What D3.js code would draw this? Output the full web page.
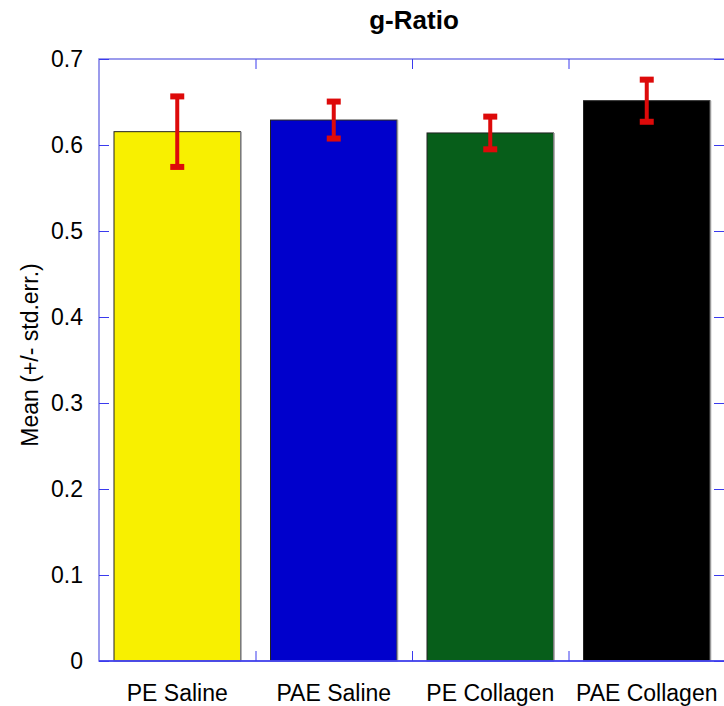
<!DOCTYPE html>
<html>
<head>
<meta charset="utf-8">
<title>g-Ratio</title>
<script src="https://cdn.jsdelivr.net/npm/d3@7"></script>
<style>
  body { margin: 0; background: #fff; }
  text { font-family: "Liberation Sans", Arial, sans-serif; }
</style>
</head>
<body>
<script>
// data
var groups = ["PE Saline", "PAE Saline", "PE Collagen", "PAE Collagen"];
var means = [0.6155, 0.629, 0.614, 0.6515];
var stdErr = [0.041, 0.0215, 0.019, 0.0245];
var barColors = ["#f8f000", "#0000cc", "#075e1a", "#000000"];
var yTicks = [0, 0.1, 0.2, 0.3, 0.4, 0.5, 0.6, 0.7];

var width = 724, height = 706;
var plotL = 99, plotR = 725, plotT = 59, plotB = 661;

var svg = d3.select("body").append("svg")
    .attr("width", width)
    .attr("height", height);

var x = d3.scaleBand().domain(groups).range([plotL, plotR]).padding(0);
var y = d3.scaleLinear().domain([0, 0.7]).range([plotB, plotT]);
var inset = 15;

// bars
svg.selectAll("rect.bar")
    .data(groups)
    .enter().append("rect")
    .attr("class", "bar")
    .attr("x", function(d) { return x(d) + inset; })
    .attr("y", function(d, i) { return y(means[i]); })
    .attr("width", x.bandwidth() - 2 * inset)
    .attr("height", function(d, i) { return y(0) - y(means[i]); })
    .attr("fill", function(d, i) { return barColors[i]; })
    .attr("stroke", "#222")
    .attr("stroke-width", 1);

// grey right edge of each bar
svg.selectAll("line.shade")
    .data(groups)
    .enter().append("line")
    .attr("x1", function(d) { return x(d) + x.bandwidth() - inset + 0.5; })
    .attr("x2", function(d) { return x(d) + x.bandwidth() - inset + 0.5; })
    .attr("y1", function(d, i) { return y(means[i]); })
    .attr("y2", y(0))
    .attr("stroke", "#999")
    .attr("stroke-width", 1.5);

// frame
svg.append("rect")
    .attr("x", plotL).attr("y", plotT)
    .attr("width", plotR - plotL).attr("height", plotB - plotT)
    .attr("fill", "none")
    .attr("stroke", "#7b7be6")
    .attr("stroke-width", 1.5);
svg.append("line")
    .attr("x1", plotL).attr("x2", plotR)
    .attr("y1", plotB).attr("y2", plotB)
    .attr("stroke", "#3a3aee").attr("stroke-width", 1.5);

// axes, ticks pointing inwards
var yAxisL = d3.axisLeft(y).tickValues(yTicks).tickSize(-10).tickPadding(16)
    .tickFormat(function(d) { return d === 0 ? "0" : d3.format(".1f")(d); });
var gy = svg.append("g").attr("transform", "translate(" + plotL + ",0)").call(yAxisL);
gy.select(".domain").remove();
gy.selectAll(".tick line").attr("stroke", "#3a3aee");
gy.selectAll(".tick text").attr("font-size", 23).attr("fill", "#000")
    .attr("font-family", "Liberation Sans, Arial, sans-serif");

var gyR = svg.append("g").attr("transform", "translate(" + plotR + ",0)")
    .call(d3.axisRight(y).tickValues(yTicks).tickSize(-11).tickFormat(""));
gyR.select(".domain").remove();
gyR.selectAll(".tick line").attr("stroke", "#3a3aee");

var bounds = groups.slice(1).map(function(d) { return x(d); });
var xb = d3.scaleLinear().domain([plotL, plotR]).range([plotL, plotR]);
var gxB = svg.append("g").attr("transform", "translate(0," + plotB + ")")
    .call(d3.axisBottom(xb).tickValues(bounds).tickSize(-10).tickFormat(""));
gxB.select(".domain").remove();
gxB.selectAll(".tick line").attr("stroke", "#3a3aee");
var gxT = svg.append("g").attr("transform", "translate(0," + plotT + ")")
    .call(d3.axisTop(xb).tickValues(bounds).tickSize(-10).tickFormat(""));
gxT.select(".domain").remove();
gxT.selectAll(".tick line").attr("stroke", "#3a3aee");

// category labels
var gx = svg.append("g").attr("transform", "translate(0," + plotB + ")")
    .call(d3.axisBottom(x).tickSize(0).tickPadding(23.5));
gx.select(".domain").remove();
gx.selectAll(".tick text").attr("font-size", 23).attr("fill", "#000")
    .attr("font-family", "Liberation Sans, Arial, sans-serif");

// error bars
var errColor = "#dd0a0a";
var eb = svg.selectAll("g.err").data(groups).enter().append("g").attr("class", "err");
eb.append("line")
    .attr("x1", function(d) { return x(d) + x.bandwidth() / 2; })
    .attr("x2", function(d) { return x(d) + x.bandwidth() / 2; })
    .attr("y1", function(d, i) { return y(means[i] + stdErr[i]); })
    .attr("y2", function(d, i) { return y(means[i] - stdErr[i]); })
    .attr("stroke", errColor).attr("stroke-width", 4);
[1, -1].forEach(function(s) {
  eb.append("line")
      .attr("x1", function(d) { return x(d) + x.bandwidth() / 2 - 7; })
      .attr("x2", function(d) { return x(d) + x.bandwidth() / 2 + 7; })
      .attr("y1", function(d, i) { return y(means[i] + s * stdErr[i]); })
      .attr("y2", function(d, i) { return y(means[i] + s * stdErr[i]); })
      .attr("stroke", errColor).attr("stroke-width", 6);
});

// title
svg.append("text")
    .attr("x", 414).attr("y", 29)
    .attr("text-anchor", "middle")
    .attr("font-size", 26).attr("font-weight", "bold")
    .text("g-Ratio");

// y label
svg.append("text")
    .attr("transform", "translate(38,355) rotate(-90)")
    .attr("text-anchor", "middle")
    .attr("font-size", 23)
    .text("Mean (+/- std.err.)");
</script>
</body>
</html>
